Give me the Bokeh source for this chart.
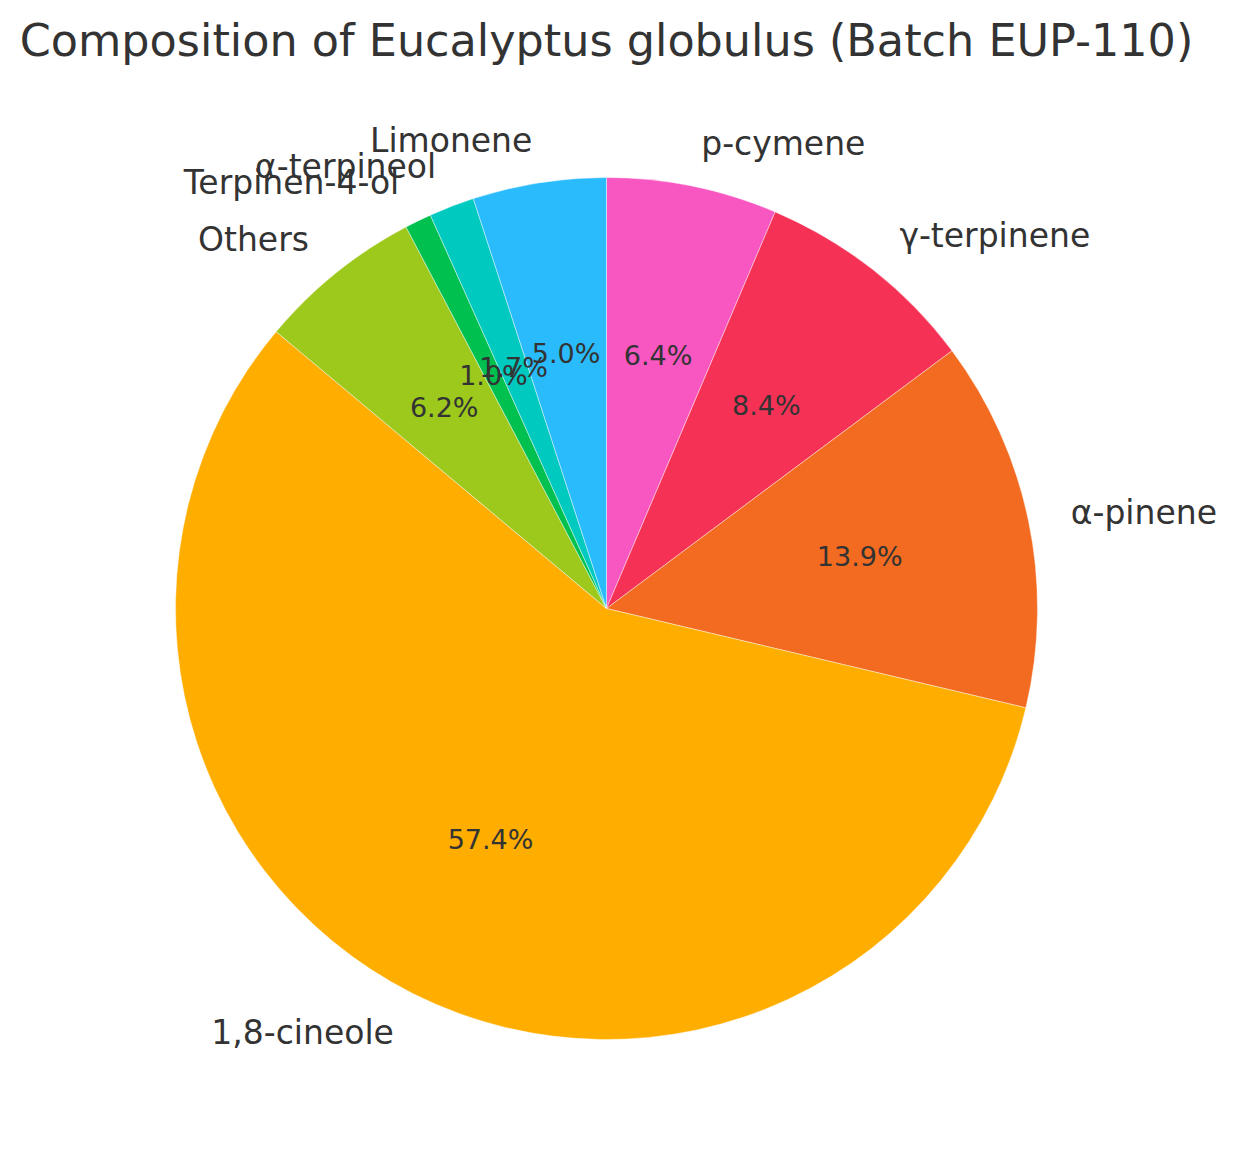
import math
import numpy as np
from bokeh.plotting import figure
from bokeh.models import Range1d, ColumnDataSource
from bokeh.core.properties import value
from bokeh.embed import file_html
from bokeh.resources import INLINE

# ---- data ----
components = ["p-cymene", "γ-terpinene", "α-pinene", "1,8-cineole", "Others",
              "Terpinen-4-ol", "α-terpineol", "Limonene"]
shares = [6.4, 8.4, 13.9, 57.4, 6.2, 1.0, 1.7, 5.0]
colors = ["#F857C1", "#F53255", "#F36B21", "#FFAE00", "#9DC91D",
          "#00C14F", "#00C9C0", "#29BBFB"]
title_text = "Composition of Eucalyptus globulus (Batch EUP-110)"

# ---- layout (page pixels mapped 1:1 to data units) ----
W, H = 1222, 1152
cx, cy = 606, 1168 - 608
R = 431
FONT = "DejaVu Sans"
TXT = "#333333"

vals = np.array(shares, dtype=float)
frac = vals / vals.sum()
cum_after = np.cumsum(frac)
cum_before = cum_after - frac
start = math.pi / 2 - cum_after * 2 * math.pi
end = math.pi / 2 - cum_before * 2 * math.pi
mid = (start + end) / 2

p = figure(width=W, height=H, output_backend="svg", toolbar_location=None,
           x_range=Range1d(0, W), y_range=Range1d(1168 - H, 1168),
           min_border=0, outline_line_color=None)
p.axis.visible = False
p.grid.visible = False
p.background_fill_color = "white"
p.border_fill_color = "white"

src = ColumnDataSource(dict(start=start, end=end, color=colors))
p.wedge(x=cx, y=cy, radius=R, start_angle="start", end_angle="end",
        direction="anticlock", fill_color="color", line_color="white",
        line_width=0.7, line_alpha=0.6, source=src)

# labels at 1.1 R
lx = cx + 1.1 * R * np.cos(mid)
ly = cy + 1.1 * R * np.sin(mid)
align = ["left" if math.cos(m) > 0 else "right" for m in mid]
lab_src = ColumnDataSource(dict(x=lx, y=ly, t=components, a=align))
p.text(x="x", y="y", text="t", text_align="a", text_baseline="middle",
       text_font=value(FONT), text_font_size="33px", text_color=TXT, source=lab_src)

# percentages at 0.6 R
px_ = cx + 0.6 * R * np.cos(mid)
py_ = cy + 0.6 * R * np.sin(mid)
pct = [f"{v * 100:.1f}%" for v in frac]
pct_src = ColumnDataSource(dict(x=px_, y=py_, t=pct))
p.text(x="x", y="y", text="t", text_align="center", text_baseline="middle",
       text_font=value(FONT), text_font_size="27px", text_color=TXT, source=pct_src)

# title
p.text(x=[606], y=[1168 - 40], text=[title_text], text_align="center",
       text_baseline="middle", text_font=value(FONT), text_font_size="44.5px",
       text_color=TXT)

open("out.html", "w").write(file_html(p, INLINE))
